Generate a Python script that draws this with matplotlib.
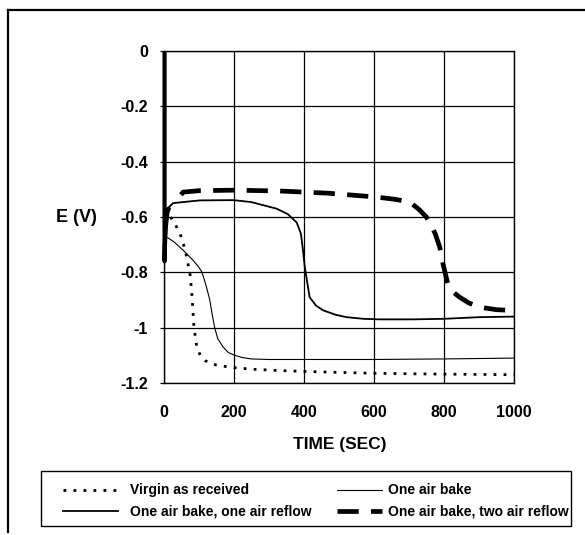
import matplotlib
matplotlib.use("Agg")
import matplotlib.pyplot as plt
from matplotlib.lines import Line2D
from matplotlib.patches import Rectangle

plt.rcParams["font.family"] = ["Liberation Sans", "DejaVu Sans"]
plt.rcParams["font.weight"] = "bold"
plt.rcParams["axes.unicode_minus"] = False

# ---- data ----
t_virgin = [20, 35, 50, 62, 70, 76, 81, 87, 95, 105, 120, 150, 190, 250, 330,
            450, 600, 800, 1000]
e_virgin = [-0.60, -0.63, -0.67, -0.72, -0.77, -0.81, -0.88, -1.00, -1.07,
            -1.10, -1.12, -1.135, -1.143, -1.15, -1.155, -1.16, -1.165,
            -1.168, -1.17]

t_bake = [12, 30, 56, 84, 100, 110, 122, 132, 140, 146, 155, 170, 185, 203,
          225, 250, 300, 400, 600, 800, 1000]
e_bake = [-0.675, -0.69, -0.72, -0.756, -0.78, -0.80, -0.85, -0.90, -0.96,
          -1.0, -1.04, -1.07, -1.09, -1.10, -1.108, -1.113, -1.115, -1.115,
          -1.115, -1.113, -1.11]

t_reflow1 = [3, 8, 15, 27, 56, 104, 200, 250, 323, 355, 380, 392, 398, 403,
             408, 417, 435, 455, 490, 522, 570, 616, 711, 800, 902, 1000]
e_reflow1 = [-0.63, -0.59, -0.565, -0.55, -0.546, -0.54, -0.539, -0.546,
             -0.57, -0.59, -0.62, -0.66, -0.72, -0.78, -0.82, -0.89, -0.92,
             -0.937, -0.953, -0.962, -0.968, -0.97, -0.97, -0.968, -0.962,
             -0.96]

t_reflow2 = [50, 56, 100, 200, 332, 470, 608, 660, 703, 731, 750, 760, 775,
             788, 797, 805, 811, 825, 845, 870, 902, 950, 1000]
e_reflow2 = [-0.52, -0.51, -0.505, -0.503, -0.506, -0.514, -0.528, -0.536,
             -0.546, -0.575, -0.60, -0.622, -0.66, -0.708, -0.767, -0.81,
             -0.84, -0.87, -0.89, -0.91, -0.926, -0.935, -0.938]

# initial transient at t ~ 0
t_spike = [3, 3, 4, 7, 11, 16]
e_spike = [0.0, -0.76, -0.70, -0.63, -0.585, -0.565]

xticks = [0, 200, 400, 600, 800, 1000]
yticks = [0, -0.2, -0.4, -0.6, -0.8, -1.0, -1.2]
ytick_labels = ["0", "-0.2", "-0.4", "-0.6", "-0.8", "-1", "-1.2"]

labels = ["Virgin as received", "One air bake, one air reflow",
          "One air bake", "One air bake, two air reflow"]

W, H = 585, 535
fig = plt.figure(figsize=(W / 100, H / 100), dpi=100)
fig.patch.set_facecolor("white")


def px(x, y):
    return x / W, 1 - y / H


# outer frame: only top and left edges are in the scan
fig.add_artist(Line2D([8 / W, 1.0], [1 - 10 / H] * 2, color="black", lw=1.6))
fig.add_artist(Line2D([8 / W] * 2, [1 - 10 / H, 1 - 532 / H], color="black", lw=1.6))

ax = fig.add_axes([163.5 / W, 1 - 383 / H, 350.5 / W, 332 / H])

styles = [
    dict(color="black", lw=2.0, linestyle=(0, (1.0, 2.6))),
    dict(color="black", lw=1.3),
    dict(color="black", lw=0.8),
    dict(color="black", lw=3.4, linestyle=(0, (4.5, 2.6)), solid_capstyle="butt",
         dash_capstyle="butt"),
]

ax.plot(t_virgin, e_virgin, **styles[0])
ax.plot(t_reflow1, e_reflow1, **styles[1])
ax.plot(t_bake, e_bake, **styles[2])
ax.plot(t_reflow2, e_reflow2, **styles[3])
ax.plot(t_spike, e_spike, color="black", lw=3.0, clip_on=False,
        solid_capstyle="butt")

ax.set_xlim(0, 1000)
ax.set_ylim(-1.2, 0)
ax.set_xticks(xticks)
ax.set_yticks(yticks)
ax.set_yticklabels(ytick_labels)
ax.grid(True, color="black", linewidth=0.9)
ax.set_axisbelow(True)
for s in ax.spines.values():
    s.set_color("black")
    s.set_linewidth(1.0)
ax.tick_params(axis="y", length=3, width=0.9, pad=8, labelsize=11.5)
ax.tick_params(axis="x", length=0, pad=16, labelsize=11.5)

fig.text(*px(340, 445), "TIME (SEC)", ha="center", va="center",
         fontsize=12.5, fontweight="bold")
fig.text(*px(76, 217), "E (V)", ha="center", va="center",
         fontsize=13, fontweight="bold")

# ---- legend box, drawn by hand to match the scan ----
fig.add_artist(Rectangle(px(41, 526), (571 - 41) / W, (526 - 471) / H,
                         transform=fig.transFigure, fill=False,
                         edgecolor="black", lw=1.0))
slots = [(63, 118, 130, 490), (63, 118, 130, 511),
         (337, 382, 388, 490), (337, 382, 388, 511)]
for (x0, x1, xt, y), lab, st in zip(slots, labels, styles):
    fig.add_artist(Line2D([x0 / W, x1 / W], [1 - y / H] * 2, **st))
    fig.text(xt / W, 1 - y / H, lab, ha="left", va="center",
             fontsize=10, fontweight="bold")

fig.savefig("out.png", dpi=100, facecolor="white")
